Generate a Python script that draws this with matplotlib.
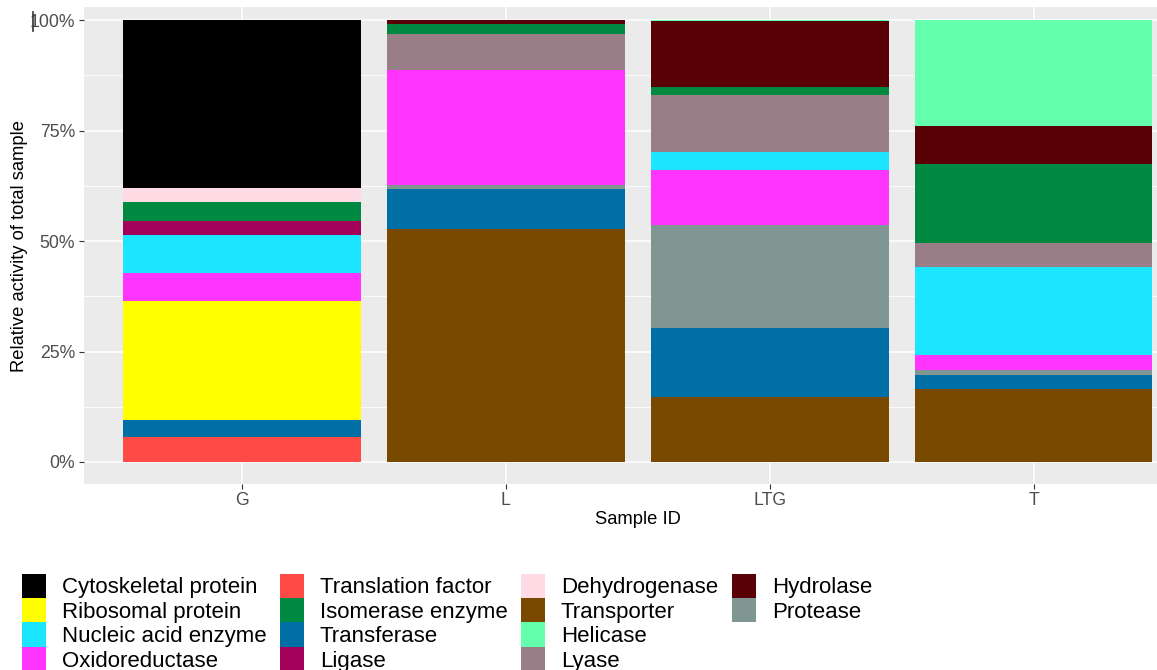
#!/usr/bin/env python3
# -*- coding:utf-8 -*-

import numpy as np
import matplotlib
matplotlib.use("Agg")
import matplotlib.pyplot as plt
from matplotlib.patches import Patch
from matplotlib.lines import Line2D
from matplotlib.ticker import PercentFormatter, MultipleLocator

plt.rcParams['font.family'] = ['Liberation Sans', 'DejaVu Sans']

samples = ["G", "L", "LTG", "T"]

# legend order (column-major)
categories = ["Cytoskeletal protein", "Ribosomal protein", "Nucleic acid enzyme", "Oxidoreductase",
              "Translation factor", "Isomerase enzyme", "Transferase", "Ligase",
              "Dehydrogenase", "Transporter", "Helicase", "Lyase",
              "Hydrolase", "Protease"]
colors = ["#000000", "#FFFF00", "#1CE6FF", "#FF34FF",
          "#FF4A46", "#008941", "#006FA6", "#A30059",
          "#FFDBE5", "#7A4900", "#63FFAC", "#997D87",
          "#5A0007", "#809693"]

# relative activity (%) per sample: G, L, LTG, T
activity = {
    "Cytoskeletal protein": [38.0, 0.0, 0.0, 0.0],
    "Ribosomal protein":    [26.9, 0.0, 0.0, 0.0],
    "Nucleic acid enzyme":  [8.6, 0.0, 3.9, 20.1],
    "Oxidoreductase":       [6.3, 26.2, 12.5, 3.3],
    "Translation factor":   [5.6, 0.0, 0.0, 0.0],
    "Isomerase enzyme":     [4.3, 2.4, 1.7, 17.8],
    "Transferase":          [3.9, 8.9, 15.5, 3.0],
    "Ligase":               [3.3, 0.0, 0.0, 0.0],
    "Dehydrogenase":        [3.1, 0.0, 0.0, 0.0],
    "Transporter":          [0.0, 52.8, 14.8, 16.6],
    "Helicase":             [0.0, 0.0, 0.2, 24.0],
    "Lyase":                [0.0, 8.0, 13.0, 5.4],
    "Hydrolase":            [0.0, 0.8, 15.0, 8.6],
    "Protease":             [0.0, 0.9, 23.4, 1.2],
}

W, H = 1157, 670
fig = plt.figure(figsize=(W/100, H/100), dpi=100)
# panel runs past the right edge of the canvas
ax = fig.add_axes([83.6/W, 1 - 484/H, (1192 - 83.6)/W, (484 - 7)/H])
ax.set_facecolor("#EBEBEB")

x = np.arange(1, len(samples) + 1)
cmap = dict(zip(categories, colors))
totals = np.sum([activity[c] for c in categories], axis=0)

# stack alphabetically, first level on top
bottom = np.zeros(len(samples))
for cat in sorted(categories, reverse=True):
    vals = np.array(activity[cat]) / totals
    ax.bar(x, vals, width=0.9, bottom=bottom, color=cmap[cat], edgecolor="none", zorder=3)
    bottom += vals

ax.set_xlim(0.4, 4.6)
ax.set_ylim(-0.05, 1.03)
ax.set_xticks(x)
ax.set_xticklabels(samples)
ax.yaxis.set_major_locator(MultipleLocator(0.25))
ax.yaxis.set_minor_locator(MultipleLocator(0.125))
ax.yaxis.set_major_formatter(PercentFormatter(1.0, decimals=0))
ax.grid(which="major", color="white", lw=1.1, zorder=0)
ax.grid(which="minor", axis="y", color="white", lw=0.55, zorder=0)
ax.set_axisbelow(True)
for s in ax.spines.values():
    s.set_visible(False)
ax.tick_params(axis="both", which="major", length=3.5, width=0.8, color="#333333",
               labelcolor="#4D4D4D", labelsize=12.7, pad=2.5)
ax.tick_params(axis="y", which="minor", length=0)
ax.set_xlabel("Sample ID", fontsize=13.2, color="black", labelpad=1.5)
ax.set_ylabel("Relative activity of total sample", fontsize=13.2, color="black", labelpad=1)

# legend: four columns, keys stacked without gaps
fs = 16
fpx = fs * 100 / 72
key_h = 24.5 / fpx
hh = (key_h - 0.245) / 0.65
col_x = [21.7, 280, 520.7, 731.7]
for i, cx in enumerate(col_x):
    cats = categories[i*4:(i+1)*4]
    handles = [Patch(facecolor=cmap[c], edgecolor="none") for c in cats]
    fig.legend(handles, cats, loc="upper left", bbox_to_anchor=(cx/W, 1 - 573.5/H),
               frameon=False, fontsize=fs, handlelength=24/fpx, handleheight=hh,
               handletextpad=16/fpx, labelspacing=-0.011, borderpad=0, borderaxespad=0)

fig.add_artist(Line2D([33/W, 33/W], [1 - 12/H, 1 - 31/H], color="#333333", lw=1.2))

plt.savefig("out.png", dpi=100)
